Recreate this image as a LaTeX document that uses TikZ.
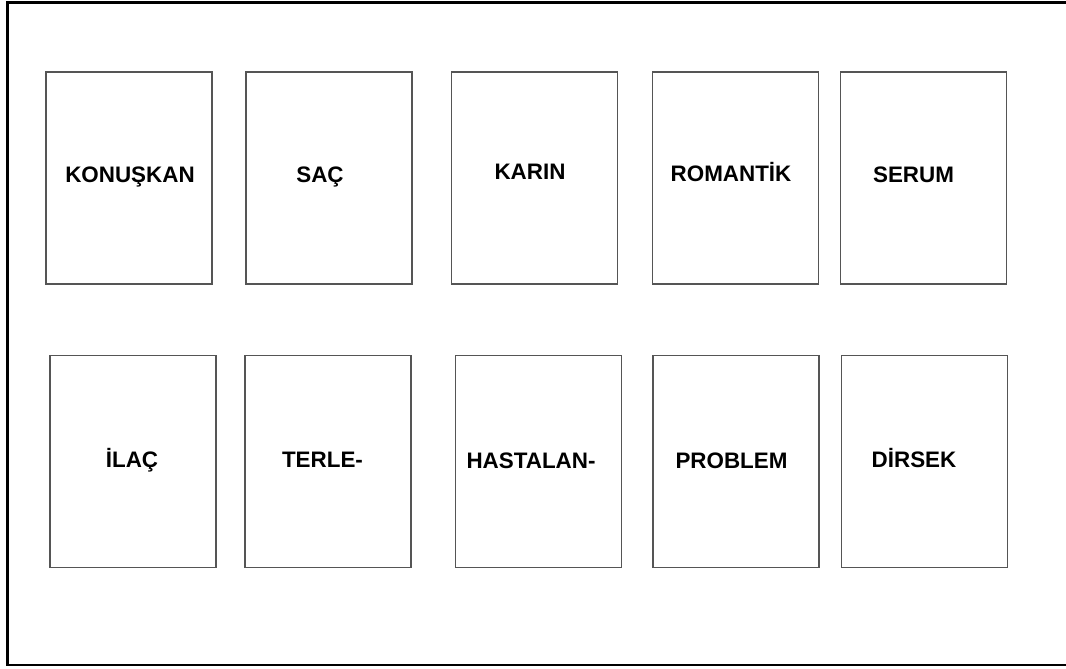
\documentclass[tikz,border=0pt]{standalone}
\usepackage{fontspec}
\setmainfont{Liberation Sans}
\usepackage{xcolor}
\usepackage{tikz}
\usetikzlibrary{positioning}
\definecolor{cardline}{HTML}{555555}
\tikzset{
  cardbox/.style={
    draw=cardline,
    line width=0.8pt,
    minimum width=124.5pt,
    minimum height=159pt,
    inner sep=0pt
  },
  cardword/.style={
    anchor=base,
    inner sep=0pt,
    font=\fontsize{16.8}{20}\selectfont\bfseries
  },
  outerframe/.style={draw=black,line width=1.7pt}
}

\begin{document}
\begin{tikzpicture}[x=0.75pt,y=-0.75pt]
  \useasboundingbox (0,0) rectangle (1066,668);
  \draw[outerframe] (1066,2.5) -- (7.5,2.5) -- (7.5,665) -- (1066,665);
  % upper row
  \node[cardbox] (konuskan) at (129,178) {};
  \node[cardbox] (sac) at (329,178) {};
  \node[cardbox] (karin) at (534.5,178) {};
  \node[cardbox] (romantik) at (735.5,178) {};
  \node[cardbox] (serum) at (923.5,178) {};
  \node[cardword] (konuskanword) at (130,182) {KONUŞKAN};
  \node[cardword] (sacword) at (320,182) {SAÇ};
  \node[cardword] (karinword) at (530,179) {KARIN};
  \node[cardword] (romantikword) at (731,181) {ROMANTİK};
  \node[cardword] (serumword) at (913.5,182) {SERUM};
  % lower row
  \node[cardbox] (ilac) at (133,461.5) {};
  \node[cardbox] (terle) at (328,461.5) {};
  \node[cardbox] (hastalan) at (538.5,461.5) {};
  \node[cardbox] (problem) at (736,461.5) {};
  \node[cardbox] (dirsek) at (924.5,461.5) {};
  \node[cardword] (ilacword) at (132,467) {İLAÇ};
  \node[cardword] (terleword) at (322.5,467) {TERLE-};
  \node[cardword] (hastalanword) at (531,468) {HASTALAN-};
  \node[cardword] (problemword) at (731.5,468) {PROBLEM};
  \node[cardword] (dirsekword) at (914,467.5) {DİRSEK};
\end{tikzpicture}
\end{document}
